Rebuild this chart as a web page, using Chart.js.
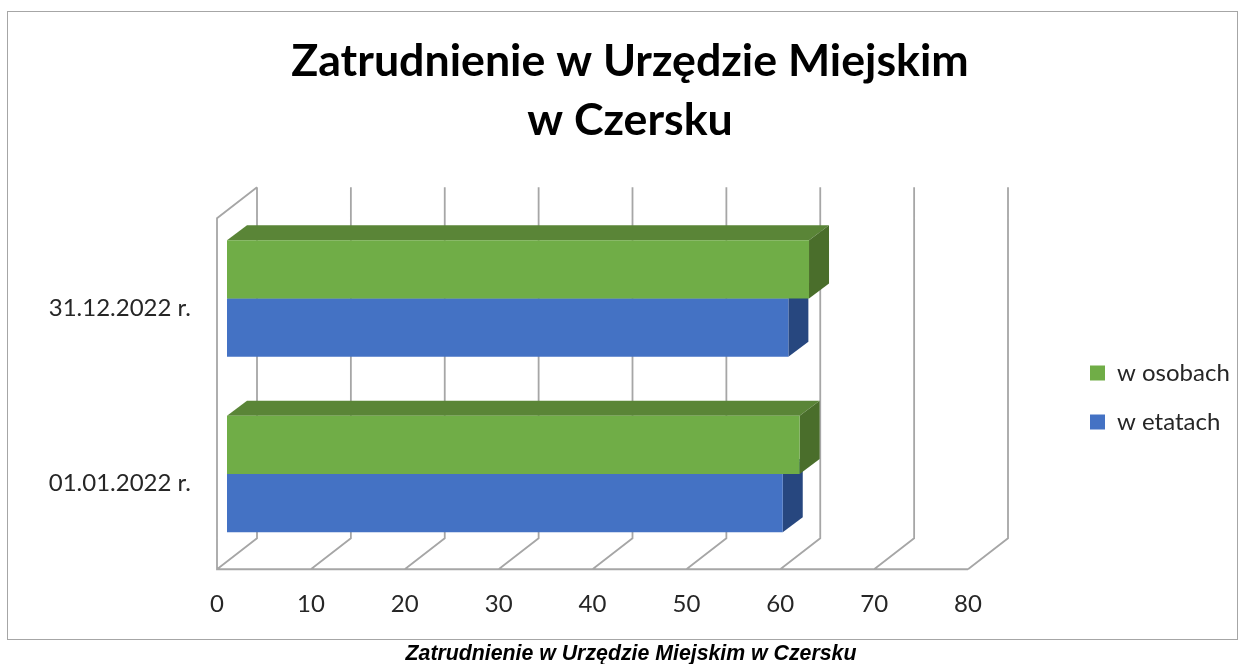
<!DOCTYPE html>
<html lang="pl">
<head>
<meta charset="utf-8">
<title>Zatrudnienie w Urzędzie Miejskim w Czersku</title>
<script src="https://cdn.jsdelivr.net/npm/chart.js@4"></script>
<style>
  html, body { margin: 0; background: #fff; }
  #frame { position: absolute; left: 7px; top: 11px; width: 1229px; height: 627px; border: 1px solid #a6a6a6; }
  #chart-box { position: absolute; left: 0; top: 0; width: 1245px; height: 664px; }
  #caption {
    position: absolute; left: 17px; width: 1228px; top: 641px; text-align: center;
    font: italic bold 21.3px "Liberation Sans", Arial, sans-serif; color: #000;
  }
</style>
</head>
<body>
<div id="frame"></div>
<div id="chart-box"><canvas id="chart" width="1245" height="664"></canvas></div>
<div id="caption">Zatrudnienie w Urzędzie Miejskim w Czersku</div>
<script>
const categories = ["31.12.2022 r.", "01.01.2022 r."];
const wOsobach = [62, 61];
const wEtatach = [59.8, 59.2];
const xTicks = [0, 10, 20, 30, 40, 50, 60, 70, 80];

// depth of the fake 3D box and of the bars inside it
const wallDepth = { x: 40, y: -31 };
const barDepth = { x: 20, y: -15 };
const barShift = { x: 10, y: -7.5 };

const poly = (ctx, pts, color) => {
  ctx.fillStyle = color;
  ctx.beginPath();
  pts.forEach((p, i) => (i ? ctx.lineTo(p[0], p[1]) : ctx.moveTo(p[0], p[1])));
  ctx.closePath();
  ctx.fill();
};

const fake3d = {
  id: "fake3d",
  beforeLayout(chart) {
    // legend keeps the whole right side, its real place is set in afterLayout
    chart.legend.fit = function () {
      Object.getPrototypeOf(this).fit.call(this);
      this.width = 277;
    };
  },
  afterLayout(chart) {
    const pad = chart.options.plugins.legend.labels.padding;
    chart.legend.left = 1090 - pad;
    chart.legend.top = 361 - pad;
    chart.legend.bottom = 664;
  },
  beforeDatasetsDraw(chart) {
    const { ctx, chartArea: area, scales } = chart;
    ctx.save();
    ctx.strokeStyle = "#a6a6a6";
    ctx.lineWidth = 1.8;
    ctx.beginPath();
    // left wall and floor front edge
    ctx.moveTo(area.left + wallDepth.x, area.top + wallDepth.y);
    ctx.lineTo(area.left, area.top);
    ctx.lineTo(area.left, area.bottom);
    ctx.lineTo(area.right, area.bottom);
    xTicks.forEach((t) => {
      const px = scales.x.getPixelForValue(t);
      ctx.moveTo(px, area.bottom);
      ctx.lineTo(px + wallDepth.x, area.bottom + wallDepth.y);
      ctx.lineTo(px + wallDepth.x, area.top + wallDepth.y);
    });
    ctx.stroke();

    // side and top faces, lower series first
    for (let d = chart.data.datasets.length - 1; d >= 0; d--) {
      const ds = chart.data.datasets[d];
      chart.getDatasetMeta(d).data.forEach((bar) => {
        const l = bar.base + barShift.x;
        const r = bar.x + barShift.x;
        const t = bar.y - bar.height / 2 + barShift.y;
        const b = bar.y + bar.height / 2 + barShift.y;
        const dx = barDepth.x;
        const dy = barDepth.y;
        poly(ctx, [[l, t], [l + dx, t + dy], [r + dx, t + dy], [r, t]], ds.topColor);
        poly(ctx, [[r, t], [r + dx, t + dy], [r + dx, b + dy], [r, b]], ds.sideColor);
      });
    }
    ctx.restore();

    ctx.save();
    ctx.translate(barShift.x, barShift.y);
  },
  afterDatasetsDraw(chart) {
    chart.ctx.restore();
  },
};

new Chart(document.getElementById("chart"), {
  type: "bar",
  plugins: [fake3d],
  data: {
    labels: categories,
    datasets: [
      {
        label: "w osobach",
        data: wOsobach,
        backgroundColor: "#70ad47",
        topColor: "#5a8537",
        sideColor: "#4a6e2b",
        categoryPercentage: 0.664,
        barPercentage: 1,
      },
      {
        label: "w etatach",
        data: wEtatach,
        backgroundColor: "#4472c4",
        topColor: "#36599b",
        sideColor: "#27477f",
        categoryPercentage: 0.664,
        barPercentage: 1,
      },
    ],
  },
  options: {
    indexAxis: "y",
    responsive: false,
    animation: false,
    maintainAspectRatio: false,
    layout: { padding: { left: 15, right: 0, top: 0, bottom: 0 } },
    plugins: {
      title: {
        display: true,
        text: ["Zatrudnienie w Urzędzie Miejskim", "w Czersku"],
        color: "#000",
        font: { family: "Lato", size: 44.7, weight: "bold", lineHeight: "59px" },
        padding: { top: 32.5, bottom: 67.75 },
      },
      legend: {
        position: "right",
        align: "start",
        labels: {
          boxWidth: 15,
          boxHeight: 15,
          padding: 25,
          color: "#262626",
          font: { family: "Lato", size: 24 },
        },
      },
      tooltip: { enabled: false },
    },
    scales: {
      x: {
        min: 0,
        max: 80,
        grid: { display: false },
        border: { display: false },
        afterFit(scale) {
          scale.height = 94.75;
        },
        ticks: {
          stepSize: 10,
          maxRotation: 0,
          padding: 12.5,
          color: "#262626",
          font: { family: "Lato", size: 24 },
        },
      },
      y: {
        grid: { display: false },
        border: { display: false },
        afterFit(scale) {
          scale.width = 202;
        },
        ticks: {
          padding: 18,
          labelOffset: 2,
          color: "#262626",
          font: { family: "Lato", size: 24 },
        },
      },
    },
  },
});
</script>
</body>
</html>
